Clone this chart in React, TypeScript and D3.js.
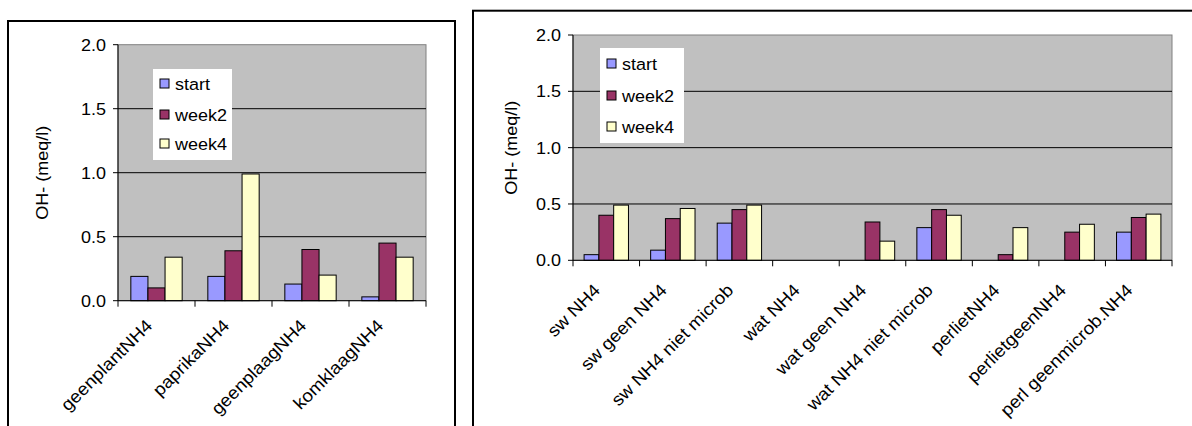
import React from "react";
import * as d3 from "d3";

const seriesNames = ["start", "week2", "week4"];
const seriesColors = ["#9999FF", "#993366", "#FFFFCC"];
const yTicks = [0, 0.5, 1.0, 1.5, 2.0];
const yTitle = "OH- (meq/l)";

const leftCategories = ["geenplantNH4", "paprikaNH4", "geenplaagNH4", "komklaagNH4"];
const leftStart = [0.19, 0.19, 0.13, 0.03];
const leftWeek2 = [0.10, 0.39, 0.40, 0.45];
const leftWeek4 = [0.34, 0.99, 0.20, 0.34];

const rightCategories = [
  "sw NH4",
  "sw geen NH4",
  "sw NH4 niet microb",
  "wat NH4",
  "wat geen NH4",
  "wat NH4 niet microb",
  "perlietNH4",
  "perlietgeenNH4",
  "perl geenmicrob.NH4",
];
const rightStart = [0.05, 0.09, 0.33, 0, 0, 0.29, 0, 0, 0.25];
const rightWeek2 = [0.40, 0.37, 0.45, 0, 0.34, 0.45, 0.05, 0.25, 0.38];
const rightWeek4 = [0.49, 0.46, 0.49, 0, 0.17, 0.40, 0.29, 0.32, 0.41];

type ChartProps = {
  categories: string[];
  series: number[][];
  frame: { x: number; y: number; w: number; h: number };
  plot: { left: number; right: number; top: number; bottom: number };
  titleX: number;
  legend: { x: number; y: number; w: number; h: number; rows: number[]; sqX: number; textX: number };
  labelDx: number;
  labelDy: number;
};

const FONT = "'Liberation Sans', Arial, sans-serif";
const FS = 17;
const SX = 1.06;
const LFS = 17.5;
const LSX = 1.08;

function Chart({ categories, series, frame, plot, titleX, legend, labelDx, labelDy }: ChartProps) {
  const x0 = d3.scaleBand<string>().domain(categories).range([plot.left, plot.right]).padding(0);
  const bw = x0.bandwidth();
  const barW = bw / 4.5;
  const x1 = d3
    .scaleBand<string>()
    .domain(seriesNames)
    .range([0.75 * barW, bw - 0.75 * barW])
    .padding(0);
  const y = d3.scaleLinear().domain([0, 2]).range([plot.bottom, plot.top]);
  const boundaries = categories.map((c) => x0(c) as number).concat([plot.right]);

  return (
    <g>
      <rect x={frame.x} y={frame.y} width={frame.w} height={frame.h} fill="#fff" stroke="#000" strokeWidth={2} />
      <rect
        x={plot.left}
        y={plot.top}
        width={plot.right - plot.left}
        height={plot.bottom - plot.top}
        fill="#C0C0C0"
        stroke="#808080"
        strokeWidth={1}
      />
      {yTicks.slice(1, 4).map((t) => (
        <line key={t} x1={plot.left} x2={plot.right} y1={y(t)} y2={y(t)} stroke="#000" strokeWidth={1} />
      ))}
      {series.map((vals, si) =>
        categories.map((c, ci) =>
          vals[ci] > 0 ? (
            <rect
              key={si + "-" + ci}
              x={(x0(c) as number) + (x1(seriesNames[si]) as number)}
              y={y(vals[ci])}
              width={x1.bandwidth()}
              height={y(0) - y(vals[ci])}
              fill={seriesColors[si]}
              stroke="#000"
              strokeWidth={1}
            />
          ) : null
        )
      )}
      {/* axes */}
      <line x1={plot.left} x2={plot.left} y1={plot.top} y2={plot.bottom} stroke="#000" strokeWidth={1} />
      <line x1={plot.left} x2={plot.right} y1={plot.bottom} y2={plot.bottom} stroke="#000" strokeWidth={1} />
      {yTicks.map((t) => (
        <g key={t}>
          <line x1={plot.left - 5} x2={plot.left} y1={y(t)} y2={y(t)} stroke="#000" />
          <text
            transform={`translate(${plot.left - 12},${y(t)}) scale(${SX},1)`}
            dy="0.35em"
            textAnchor="end"
            fontFamily={FONT}
            fontSize={FS}
            fill="#000"
          >
            {d3.format(".1f")(t)}
          </text>
        </g>
      ))}
      {boundaries.map((bx, i) => (
        <line key={i} x1={bx} x2={bx} y1={plot.bottom} y2={plot.bottom + 6} stroke="#000" />
      ))}
      {categories.map((c) => {
        const cx = (x0(c) as number) + bw / 2;
        return (
          <text
            key={c}
            transform={`translate(${cx + labelDx},${plot.bottom + labelDy}) rotate(-45) scale(${LSX},1)`}
            textAnchor="end"
            fontFamily={FONT}
            fontSize={LFS}
            fill="#000"
          >
            {c}
          </text>
        );
      })}
      <text
        transform={`translate(${titleX},${(plot.top + plot.bottom) / 2}) rotate(-90) scale(${SX},1)`}
        textAnchor="middle"
        dy="0.35em"
        fontFamily={FONT}
        fontSize={FS}
        fill="#000"
      >
        {yTitle}
      </text>
      {/* legend */}
      <rect x={legend.x} y={legend.y} width={legend.w} height={legend.h} fill="#fff" />
      {seriesNames.map((s, i) => (
        <g key={s}>
          <rect
            x={legend.sqX}
            y={legend.rows[i] - 5}
            width={9}
            height={9}
            fill={seriesColors[i]}
            stroke="#000"
            strokeWidth={1}
          />
          <text
            transform={`translate(${legend.textX},${legend.rows[i]}) scale(${SX},1)`}
            dy="0.35em"
            fontFamily={FONT}
            fontSize={FS}
            fill="#000"
          >
            {s}
          </text>
        </g>
      ))}
    </g>
  );
}

export default function App() {
  return (
    <svg
      width={1192}
      height={426}
      style={{ position: "absolute", left: 0, top: 0, background: "#fff" }}
    >
      <Chart
        categories={leftCategories}
        series={[leftStart, leftWeek2, leftWeek4]}
        frame={{ x: 8, y: 21, w: 447, h: 430 }}
        plot={{ left: 118, right: 426, top: 44.7, bottom: 300.7 }}
        titleX={42}
        legend={{ x: 153, y: 69, w: 79, h: 91, rows: [84, 115, 144], sqX: 160, textX: 175 }}
        labelDx={-3}
        labelDy={26}
      />
      <Chart
        categories={rightCategories}
        series={[rightStart, rightWeek2, rightWeek4]}
        frame={{ x: 473, y: 10.7, w: 740, h: 440 }}
        plot={{ left: 573, right: 1172, top: 35, bottom: 260.3 }}
        titleX={511}
        legend={{ x: 600, y: 48, w: 84, h: 95, rows: [64, 96, 127], sqX: 607, textX: 622 }}
        labelDx={-5}
        labelDy={31}
      />
    </svg>
  );
}
